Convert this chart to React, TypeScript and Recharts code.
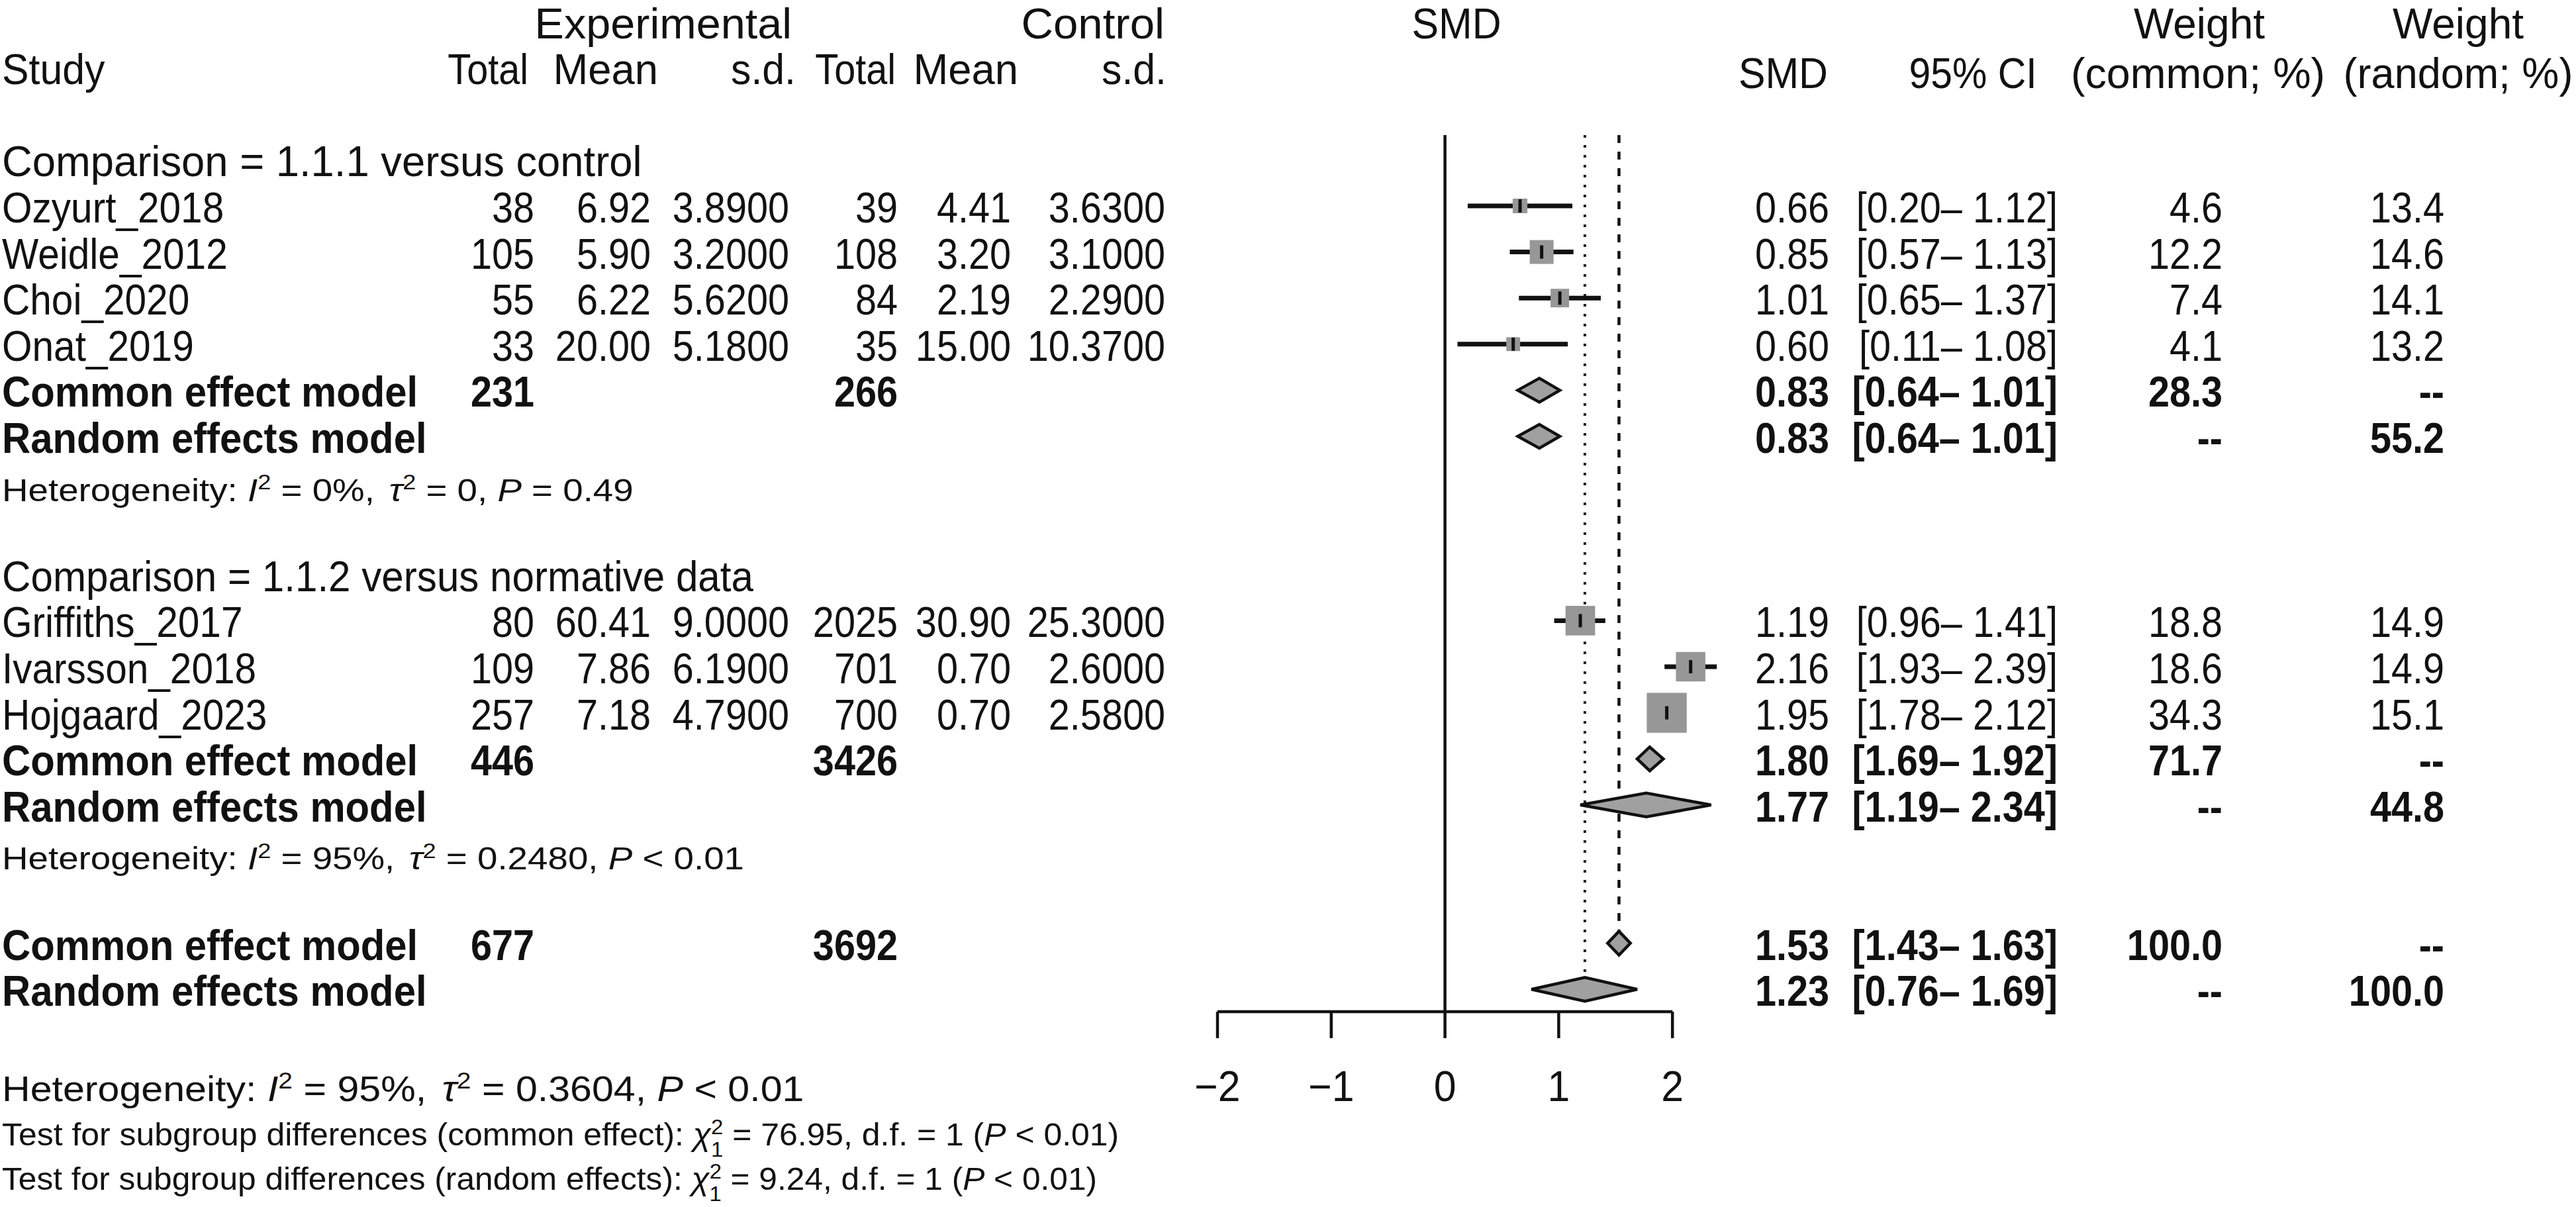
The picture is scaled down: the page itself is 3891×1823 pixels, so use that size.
import React from 'react';
import { ComposedChart, XAxis, YAxis, Scatter, Line, ReferenceLine, Customized } from 'recharts';

// ---------- data ----------
const group1Names = ['Ozyurt_2018', 'Weidle_2012', 'Choi_2020', 'Onat_2019'];
const group1ExpN = [38, 105, 55, 33];
const group1ExpMean = ['6.92', '5.90', '6.22', '20.00'];
const group1ExpSd = ['3.8900', '3.2000', '5.6200', '5.1800'];
const group1CtrlN = [39, 108, 84, 35];
const group1CtrlMean = ['4.41', '3.20', '2.19', '15.00'];
const group1CtrlSd = ['3.6300', '3.1000', '2.2900', '10.3700'];
const group1Smd = [0.66, 0.85, 1.01, 0.6];
const group1Lo = [0.2, 0.57, 0.65, 0.11];
const group1Hi = [1.12, 1.13, 1.37, 1.08];
const group1WCommon = [4.6, 12.2, 7.4, 4.1];
const group1WRandom = [13.4, 14.6, 14.1, 13.2];
const group1Rows = [4, 5, 6, 7];

const group2Names = ['Griffiths_2017', 'Ivarsson_2018', 'Hojgaard_2023'];
const group2ExpN = [80, 109, 257];
const group2ExpMean = ['60.41', '7.86', '7.18'];
const group2ExpSd = ['9.0000', '6.1900', '4.7900'];
const group2CtrlN = [2025, 701, 700];
const group2CtrlMean = ['30.90', '0.70', '0.70'];
const group2CtrlSd = ['25.3000', '2.6000', '2.5800'];
const group2Smd = [1.19, 2.16, 1.95];
const group2Lo = [0.96, 1.93, 1.78];
const group2Hi = [1.41, 2.39, 2.12];
const group2WCommon = [18.8, 18.6, 34.3];
const group2WRandom = [14.9, 14.9, 15.1];
const group2Rows = [13, 14, 15];

const summaryLabels = ['Common effect model', 'Random effects model', 'Common effect model', 'Random effects model', 'Common effect model', 'Random effects model'];
const summaryExpN = ['231', '', '446', '', '677', ''];
const summaryCtrlN = ['266', '', '3426', '', '3692', ''];
const summarySmd = [0.83, 0.83, 1.8, 1.77, 1.53, 1.23];
const summaryLo = [0.64, 0.64, 1.69, 1.19, 1.43, 0.76];
const summaryHi = [1.01, 1.01, 1.92, 2.34, 1.63, 1.69];
const summaryWCommon = ['28.3', '--', '71.7', '--', '100.0', '--'];
const summaryWRandom = ['--', '55.2', '--', '44.8', '--', '100.0'];
const summaryRows = [8, 9, 16, 17, 20, 21];

const subgroupTitles = ['Comparison = 1.1.1 versus control', 'Comparison = 1.1.2 versus normative data'];
const subgroupTitleRows = [3, 12];

const xTicks = [-2, -1, 0, 1, 2];
const overallCommon = 1.53;
const overallRandom = 1.23;

// ---------- layout ----------
const W = 3891;
const H = 1823;
const PLOT_LEFT = 1839;
const PLOT_TOP = 204;
const PLOT_BOTTOM = 1528;
const X_MIN = -2;
const X_MAX = 3;
const PPU = 171.8;
const PLOT_RIGHT = PLOT_LEFT + (X_MAX - X_MIN) * PPU;
const ROW0 = 32.6;
const ROW_H = 69.6;
const Y_MIN = (PLOT_TOP - ROW0) / ROW_H;
const Y_MAX = (PLOT_BOTTOM - ROW0) / ROW_H;
const X_AXIS_H = 110;
const rowY = (r: number) => PLOT_TOP + ((r - Y_MIN) / (Y_MAX - Y_MIN)) * (PLOT_BOTTOM - PLOT_TOP);

const FONT = "'Liberation Sans', Arial, sans-serif";
const MAIN = 64;
const DIAMOND_HALF = 18;
const INK = '#111';
const SUBGROUP_TITLE_SX = [0.99, 0.94];

const fmtCI = (lo: number, hi: number) => `[${lo.toFixed(2)}\u2013 ${hi.toFixed(2)}]`;

function makeStudies(names: string[], expN: number[], expMean: string[], expSd: string[], ctrlN: number[], ctrlMean: string[], ctrlSd: string[], smd: number[], lo: number[], hi: number[], wC: number[], wR: number[], rows: number[]) {
  return names.map((name, i) => ({
    name, expN: expN[i], expMean: expMean[i], expSd: expSd[i], ctrlN: ctrlN[i], ctrlMean: ctrlMean[i], ctrlSd: ctrlSd[i],
    x: smd[i], lo: lo[i], hi: hi[i], wC: wC[i], wR: wR[i], y: rows[i],
  }));
}

const studies = [
  ...makeStudies(group1Names, group1ExpN, group1ExpMean, group1ExpSd, group1CtrlN, group1CtrlMean, group1CtrlSd, group1Smd, group1Lo, group1Hi, group1WCommon, group1WRandom, group1Rows),
  ...makeStudies(group2Names, group2ExpN, group2ExpMean, group2ExpSd, group2CtrlN, group2CtrlMean, group2CtrlSd, group2Smd, group2Lo, group2Hi, group2WCommon, group2WRandom, group2Rows),
];

const summaries = summaryLabels.map((label, i) => ({
  label, expN: summaryExpN[i], ctrlN: summaryCtrlN[i], x: summarySmd[i], lo: summaryLo[i], hi: summaryHi[i],
  wC: summaryWCommon[i], wR: summaryWRandom[i], y: summaryRows[i],
}));

const dashedCommonLine = [{ x: overallCommon, y: Y_MIN }, { x: overallCommon, y: summaryRows[4] - DIAMOND_HALF / ROW_H }];
const dottedRandomLine = [{ x: overallRandom, y: Y_MIN }, { x: overallRandom, y: summaryRows[5] - DIAMOND_HALF / ROW_H }];

// ---------- text helpers ----------
function T({ x, y, anchor = 'start', size = MAIN, bold = false, sx = 0.9, children }: any) {
  return (
    <text transform={`translate(${x} ${y}) scale(${sx} 1)`} textAnchor={anchor} fontSize={size}
      fontWeight={bold ? 700 : 400} fontFamily={FONT} fill={INK}>
      {children}
    </text>
  );
}

const COL = {
  study: 3, expN: 807, expMean: 983, expSd: 1192, ctrlN: 1356, ctrlMean: 1527, ctrlSd: 1760,
  smd: 2763, ci: 3108, wC: 3357, wR: 3692,
};

const NAME_SX = 0.915;
const BOLD_SX = 0.935;

function HetText({ y, size, sx, i2, tau2, pText }: any) {
  const sup = size * 0.66;
  const d = size * 0.36;
  return (
    <T x={COL.study} y={y} size={size} sx={sx}>
      <tspan>Heterogeneity: </tspan>
      <tspan fontStyle="italic">I</tspan>
      <tspan dy={-d} fontSize={sup}>2</tspan>
      <tspan dy={d}>{` = ${i2}, `}</tspan>
      <tspan fontStyle="italic" dx={size * 0.12}>τ</tspan>
      <tspan dy={-d} fontSize={sup}>2</tspan>
      <tspan dy={d}>{` = ${tau2}, `}</tspan>
      <tspan fontStyle="italic">P</tspan>
      <tspan>{` ${pText}`}</tspan>
    </T>
  );
}

function TestText({ y, size, sx, label, chi }: any) {
  const sup = size * 0.66;
  const d = size * 0.36;
  return (
    <T x={COL.study} y={y} size={size} sx={sx}>
      <tspan>{`Test for subgroup differences (${label}): `}</tspan>
      <tspan fontStyle="italic">χ</tspan>
      <tspan dy={-d} fontSize={sup}>2</tspan>
      <tspan dx={-sup * 0.56} dy={d * 2} fontSize={sup}>1</tspan>
      <tspan dy={-d}>{` = ${chi}, d.f. = 1 (`}</tspan>
      <tspan fontStyle="italic">P</tspan>
      <tspan>{' < 0.01)'}</tspan>
    </T>
  );
}

function TextLayer() {
  const base = (r: number) => rowY(r) + 25;
  const het = (r: number) => rowY(r) + 28;
  return (
    <g>
      {/* header row 1 */}
      <T x={1196} y={base(0)} anchor="end" sx={1.04}>Experimental</T>
      <T x={1759} y={base(0)} anchor="end" sx={1.05}>Control</T>
      <T x={2200} y={base(0)} anchor="middle" sx={0.95}>SMD</T>
      <T x={3322} y={base(0)} anchor="middle" sx={1.0}>Weight</T>
      <T x={3713} y={base(0)} anchor="middle" sx={1.0}>Weight</T>
      {/* header row 2 */}
      <T x={COL.study} y={base(1)} sx={0.95}>Study</T>
      <T x={798} y={base(1)} anchor="end" sx={0.9}>Total</T>
      <T x={994} y={base(1)} anchor="end" sx={0.99}>Mean</T>
      <T x={1202} y={base(1)} anchor="end" sx={0.95}>s.d.</T>
      <T x={1353} y={base(1)} anchor="end" sx={0.9}>Total</T>
      <T x={1538} y={base(1)} anchor="end" sx={0.99}>Mean</T>
      <T x={1762} y={base(1)} anchor="end" sx={0.95}>s.d.</T>
      <T x={2761} y={base(1) + 6} anchor="end" sx={0.95}>SMD</T>
      <T x={2980} y={base(1) + 6} anchor="middle" sx={0.92}>95% CI</T>
      <T x={3320} y={base(1) + 6} anchor="middle" sx={1.01}>(common; %)</T>
      <T x={3713} y={base(1) + 6} anchor="middle" sx={0.985}>(random; %)</T>

      {subgroupTitles.map((t, i) => (
        <T key={t} x={COL.study} y={base(subgroupTitleRows[i])} sx={SUBGROUP_TITLE_SX[i]}>{t}</T>
      ))}

      {studies.map((s) => (
        <g key={s.name}>
          <T x={COL.study} y={base(s.y)} sx={NAME_SX}>{s.name}</T>
          <T x={COL.expN} y={base(s.y)} anchor="end">{s.expN}</T>
          <T x={COL.expMean} y={base(s.y)} anchor="end">{s.expMean}</T>
          <T x={COL.expSd} y={base(s.y)} anchor="end">{s.expSd}</T>
          <T x={COL.ctrlN} y={base(s.y)} anchor="end">{s.ctrlN}</T>
          <T x={COL.ctrlMean} y={base(s.y)} anchor="end">{s.ctrlMean}</T>
          <T x={COL.ctrlSd} y={base(s.y)} anchor="end">{s.ctrlSd}</T>
          <T x={COL.smd} y={base(s.y)} anchor="end">{s.x.toFixed(2)}</T>
          <T x={COL.ci} y={base(s.y)} anchor="end">{fmtCI(s.lo, s.hi)}</T>
          <T x={COL.wC} y={base(s.y)} anchor="end">{s.wC.toFixed(1)}</T>
          <T x={COL.wR} y={base(s.y)} anchor="end">{s.wR.toFixed(1)}</T>
        </g>
      ))}

      {summaries.map((s, i) => (
        <g key={i}>
          <T x={COL.study} y={base(s.y)} bold sx={BOLD_SX}>{s.label}</T>
          {s.expN ? <T x={COL.expN} y={base(s.y)} anchor="end" bold>{s.expN}</T> : null}
          {s.ctrlN ? <T x={COL.ctrlN} y={base(s.y)} anchor="end" bold>{s.ctrlN}</T> : null}
          <T x={COL.smd} y={base(s.y)} anchor="end" bold>{s.x.toFixed(2)}</T>
          <T x={COL.ci} y={base(s.y)} anchor="end" bold>{fmtCI(s.lo, s.hi)}</T>
          <T x={COL.wC} y={base(s.y)} anchor="end" bold>{s.wC}</T>
          <T x={COL.wR} y={base(s.y)} anchor="end" bold>{s.wR}</T>
        </g>
      ))}

      <HetText y={het(10)} size={48} sx={1.14} i2="0%" tau2="0" pText="= 0.49" />
      <HetText y={het(18)} size={48} sx={1.14} i2="95%" tau2="0.2480" pText="< 0.01" />
      <HetText y={1663} size={54} sx={1.095} i2="95%" tau2="0.3604" pText="< 0.01" />
      <TestText y={1730} size={48} sx={1.04} label="common effect" chi="76.95" />
      <TestText y={1797} size={48} sx={1.035} label="random effects" chi="9.24" />
    </g>
  );
}

// ---------- shapes ----------
function SquareShape(props: any) {
  const { cx, cy, payload } = props;
  const s = 10.3 * Math.sqrt(payload.wC);
  return <rect x={cx - s / 2} y={cy - s / 2} width={s} height={s} fill="#979797" />;
}

function TickShape(props: any) {
  const { cx, cy } = props;
  return <rect x={cx - 2.5} y={cy - 10} width={5} height={20} fill={INK} />;
}

function DiamondShape(props: any) {
  const { cx, cy, payload } = props;
  const left = cx - (payload.x - payload.lo) * PPU;
  const right = cx + (payload.hi - payload.x) * PPU;
  const pts = `${left},${cy} ${cx},${cy - DIAMOND_HALF} ${right},${cy} ${cx},${cy + DIAMOND_HALF}`;
  return <polygon points={pts} fill="#a0a0a0" stroke={INK} strokeWidth={4.5} strokeLinejoin="miter" />;
}

function AxisTick(props: any) {
  const { x, y, payload } = props;
  const v = payload.value;
  const label = v < 0 ? `\u2212${Math.abs(v)}` : `${v}`;
  return <T x={x} y={y + 95} anchor="middle" sx={0.95}>{label}</T>;
}

export default function App() {
  return (
    <div style={{ position: 'absolute', left: 0, top: 0, width: W, height: H, background: '#fff' }}>
      <ComposedChart width={W} height={H}
        margin={{ left: PLOT_LEFT, right: W - PLOT_RIGHT, top: PLOT_TOP, bottom: H - PLOT_BOTTOM - X_AXIS_H }}>
        <XAxis type="number" dataKey="x" domain={[X_MIN, X_MAX]} ticks={xTicks} interval={0}
          height={X_AXIS_H} axisLine={false} tickLine={{ stroke: INK, strokeWidth: 4.5 }} tickSize={40}
          tickMargin={0} tick={<AxisTick />} />
        <YAxis type="number" dataKey="y" domain={[Y_MIN, Y_MAX]} reversed hide />
        <ReferenceLine x={0} stroke={INK} strokeWidth={4.5} />
        <ReferenceLine segment={[{ x: -2, y: Y_MAX }, { x: 2, y: Y_MAX }]} stroke={INK} strokeWidth={4.5} ifOverflow="visible" />
        <Line data={dottedRandomLine} dataKey="y" stroke="#222" strokeWidth={4} strokeDasharray="4 11"
          dot={false} isAnimationActive={false} legendType="none" />
        <Line data={dashedCommonLine} dataKey="y" stroke={INK} strokeWidth={4.5} strokeDasharray="12 13"
          dot={false} isAnimationActive={false} legendType="none" />
        <Scatter data={studies} shape={<SquareShape />} isAnimationActive={false} />
        {studies.map((s) => (
          <Line key={`ci-${s.name}`} data={[{ x: s.lo, y: s.y }, { x: s.hi, y: s.y }]} dataKey="y"
            stroke={INK} strokeWidth={7} dot={false} isAnimationActive={false} legendType="none" />
        ))}
        <Scatter data={studies} shape={<TickShape />} isAnimationActive={false} />
        <Scatter data={summaries} shape={<DiamondShape />} isAnimationActive={false} />
        <Customized component={<TextLayer />} />
      </ComposedChart>
    </div>
  );
}
